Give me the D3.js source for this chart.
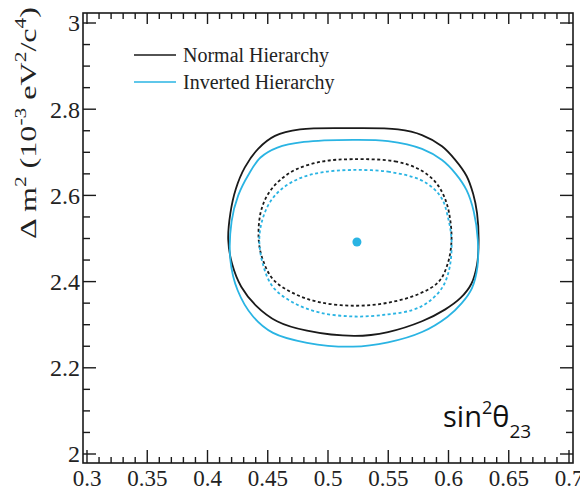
<!DOCTYPE html>
<html><head><meta charset="utf-8">
<script src="https://cdn.jsdelivr.net/npm/d3@7"></script>
<style>
html,body{margin:0;padding:0;background:#fff;}
svg{display:block;}
</style></head>
<body>
<svg id="c" width="580" height="492"></svg>
<script>
// ---- data ----
const xTicks = [0.3, 0.35, 0.4, 0.45, 0.5, 0.55, 0.6, 0.65, 0.7];
const xTickLabels = ["0.3","0.35","0.4","0.45","0.5","0.55","0.6","0.65","0.7"];
const yTicks = [2, 2.2, 2.4, 2.6, 2.8, 3];
const yTickLabels = ["2","2.2","2.4","2.6","2.8","3"];
const legendLabels = ["Normal Hierarchy", "Inverted Hierarchy"];
const bestFit = [0.524, 2.492];
// Normal hierarchy, outer (solid) contour
const nhOuter = [[0.5207,2.756],[0.5581,2.753],[0.578,2.740],[0.5946,2.714],[0.6054,2.683],[0.6150,2.645],[0.6205,2.603],[0.6237,2.559],[0.6250,2.497],[0.6237,2.440],[0.6190,2.395],[0.6100,2.362],[0.5970,2.335],[0.578,2.308],[0.5498,2.283],[0.5224,2.274],[0.4826,2.286],[0.4577,2.308],[0.4400,2.345],[0.4280,2.388],[0.4205,2.440],[0.4172,2.497],[0.4190,2.559],[0.4235,2.615],[0.4310,2.665],[0.4420,2.708],[0.4560,2.738],[0.4768,2.753]];
// Inverted hierarchy, outer (solid) contour
const ihOuter = [[0.5207,2.729],[0.5498,2.726],[0.578,2.708],[0.5946,2.682],[0.6060,2.650],[0.6150,2.612],[0.6210,2.562],[0.6243,2.497],[0.6240,2.434],[0.6195,2.385],[0.6110,2.350],[0.5990,2.318],[0.578,2.283],[0.5498,2.259],[0.5207,2.249],[0.4826,2.258],[0.4544,2.281],[0.4378,2.319],[0.4250,2.380],[0.4190,2.450],[0.4200,2.540],[0.4255,2.600],[0.4340,2.648],[0.4440,2.688],[0.4580,2.711],[0.4800,2.724]];
// Normal hierarchy, inner (dashed) contour
const nhInner = [[0.5207,2.684],[0.5556,2.679],[0.5760,2.660],[0.5888,2.632],[0.5960,2.600],[0.6005,2.559],[0.6025,2.497],[0.5995,2.443],[0.5920,2.400],[0.5760,2.372],[0.5498,2.351],[0.5224,2.344],[0.4934,2.352],[0.4720,2.372],[0.4545,2.405],[0.4460,2.450],[0.4425,2.497],[0.4440,2.559],[0.4500,2.602],[0.4600,2.635],[0.4740,2.661],[0.4960,2.679]];
// Inverted hierarchy, inner (dashed) contour
const ihInner = [[0.5207,2.659],[0.5498,2.655],[0.5760,2.637],[0.5880,2.615],[0.5950,2.590],[0.5995,2.550],[0.6025,2.497],[0.6010,2.434],[0.5950,2.387],[0.5830,2.352],[0.5700,2.334],[0.5498,2.324],[0.5224,2.319],[0.4934,2.328],[0.4720,2.350],[0.4544,2.387],[0.4460,2.440],[0.4430,2.497],[0.4455,2.543],[0.4520,2.585],[0.4620,2.616],[0.4768,2.640],[0.4960,2.654]];

// ---- layout ----
const svg = d3.select("#c");
const BLACK = "#1a1a1a", CYAN = "#2ab4e3";
const frame = {x0: 83, x1: 573, y0: 13, y1: 463};
const x = d3.scaleLinear().domain([0.3, 0.7]).range([87, 569]);
const y = d3.scaleLinear().domain([2, 3]).range([454, 23]);
const serif = "'Liberation Serif','DejaVu Serif',serif";

// contours
const line = d3.line().x(d => x(d[0])).y(d => y(d[1])).curve(d3.curveCatmullRomClosed.alpha(0.5));
const contours = [
  {d: nhOuter, c: BLACK, dash: null},
  {d: ihOuter, c: CYAN, dash: null},
  {d: nhInner, c: BLACK, dash: "3,2.5"},
  {d: ihInner, c: CYAN, dash: "3,2.5"}
];
svg.append("g").selectAll("path").data(contours).join("path")
  .attr("d", d => line(d.d)).attr("fill", "none")
  .attr("stroke", d => d.c).attr("stroke-width", 1.8)
  .attr("stroke-dasharray", d => d.dash);

svg.append("circle").attr("cx", x(bestFit[0])).attr("cy", y(bestFit[1])).attr("r", 4.5).attr("fill", CYAN);

// frame
svg.append("rect").attr("x", frame.x0).attr("y", frame.y0)
  .attr("width", frame.x1 - frame.x0).attr("height", frame.y1 - frame.y0)
  .attr("fill", "none").attr("stroke", BLACK).attr("stroke-width", 1.6);

// ticks
const ax = svg.append("g").attr("stroke", BLACK).attr("stroke-width", 1.4);
const xMinor = d3.range(30, 71).map(v => v / 100);
xMinor.forEach(v => {
  const major = Math.abs(v * 20 - Math.round(v * 20)) < 1e-6;
  const lb = major ? 13 : 6, lt = major ? 11 : 6;
  ax.append("line").attr("x1", x(v)).attr("x2", x(v)).attr("y1", frame.y1).attr("y2", frame.y1 - lb);
  ax.append("line").attr("x1", x(v)).attr("x2", x(v)).attr("y1", frame.y0).attr("y2", frame.y0 + lt);
});
const yMinor = d3.range(0, 21).map(i => 2 + i * 0.05);
yMinor.forEach((v, i) => {
  const major = i % 4 === 0;
  const l = major ? 13 : 7;
  ax.append("line").attr("x1", frame.x0).attr("x2", frame.x0 + l).attr("y1", y(v)).attr("y2", y(v));
  ax.append("line").attr("x1", frame.x1).attr("x2", frame.x1 - l).attr("y1", y(v)).attr("y2", y(v));
});

// tick labels
svg.append("g").selectAll("text").data(xTicks).join("text")
  .attr("x", d => x(d)).attr("y", 486).attr("text-anchor", "middle")
  .attr("font-family", serif).attr("font-size", 23).attr("fill", "#222")
  .text((d, i) => xTickLabels[i]);
svg.append("g").selectAll("text").data(yTicks).join("text")
  .attr("x", 80).attr("y", d => y(d)).attr("dy", "0.35em").attr("text-anchor", "end")
  .attr("font-family", serif).attr("font-size", 24).attr("fill", "#222")
  .text((d, i) => yTickLabels[i]);

// y axis title
const yt = svg.append("text").attr("transform", "translate(36,123) rotate(-90)")
  .attr("text-anchor", "middle").attr("font-family", serif).attr("font-size", 24).attr("fill", "#222")
  .attr("textLength", 232).attr("lengthAdjust", "spacingAndGlyphs");
yt.append("tspan").text("Δ m");
yt.append("tspan").attr("font-size", 16).attr("dy", -10).text("2");
yt.append("tspan").attr("dy", 10).text(" (10");
yt.append("tspan").attr("font-size", 16).attr("dy", -10).text("-3");
yt.append("tspan").attr("dy", 10).text(" eV");
yt.append("tspan").attr("font-size", 16).attr("dy", -10).text("2");
yt.append("tspan").attr("dy", 10).text("/c");
yt.append("tspan").attr("font-size", 16).attr("dy", -10).text("4");
yt.append("tspan").attr("dy", 10).text(")");

// legend
const lg = svg.append("g");
[BLACK, CYAN].forEach((c, i) => {
  const yy = 55 + i * 27;
  lg.append("line").attr("x1", 134).attr("x2", 176).attr("y1", yy).attr("y2", yy).attr("stroke", c).attr("stroke-width", 1.6);
  lg.append("text").attr("x", 183).attr("y", yy).attr("dy", "0.33em")
    .attr("font-family", serif).attr("font-size", 20).attr("fill", "#222").text(legendLabels[i]);
});

// x axis title
const xt = svg.append("text").attr("x", 443).attr("y", 427)
  .attr("font-family", "'Open Sans','Noto Sans',sans-serif").attr("font-size", 29).attr("fill", "#111");
xt.append("tspan").text("sin");
xt.append("tspan").attr("font-size", 18).attr("dy", -13).text("2");
xt.append("tspan").attr("dy", 13).text("θ");
xt.append("tspan").attr("font-size", 19).attr("dy", 11).text("23");
</script>
</body></html>
